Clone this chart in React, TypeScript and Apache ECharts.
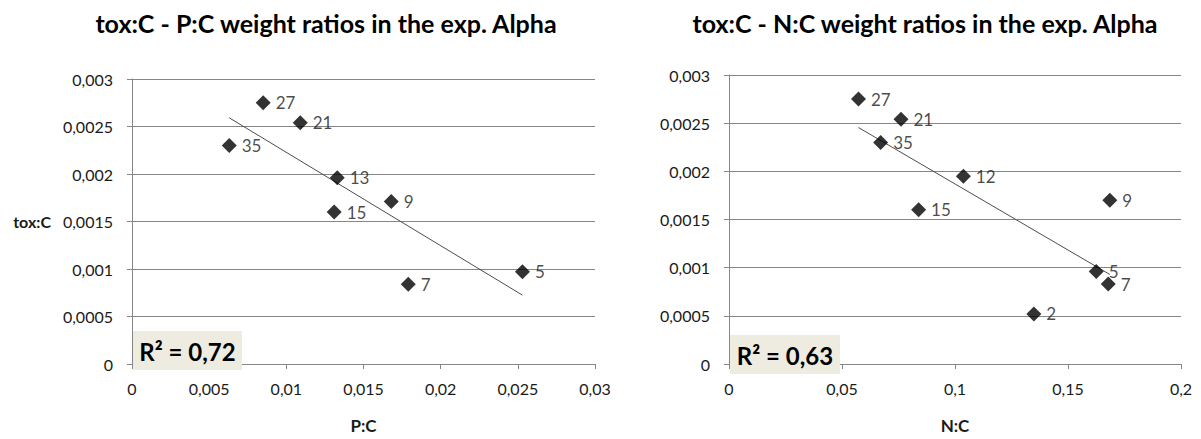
import React, { useEffect, useRef } from "react";
import * as echarts from "echarts";

// P:C chart
const pcNames = ["35", "27", "21", "15", "13", "9", "7", "5"];
const pcX = [0.0063, 0.0085, 0.0109, 0.0131, 0.0133, 0.0168, 0.0179, 0.0253];
const pcY = [0.0023, 0.00275, 0.00254, 0.0016, 0.00196, 0.00171, 0.00084, 0.00097];

// N:C chart
const ncNames = ["27", "35", "21", "15", "12", "2", "5", "7", "9"];
const ncX = [0.0573, 0.0671, 0.0761, 0.0839, 0.1037, 0.1349, 0.1625, 0.1678, 0.1685];
const ncY = [0.00275, 0.0023, 0.00254, 0.0016, 0.00195, 0.00052, 0.00096, 0.00083, 0.0017];

const titles = [
  "tox:C - P:C weight ratios in the exp. Alpha",
  "tox:C - N:C weight ratios in the exp. Alpha",
];
const xNames = ["P:C", "N:C"];
const yName = "tox:C";
const xMax = [0.03, 0.2];
const xStep = [0.005, 0.05];
const yMax = 0.003;
const yStep = 0.0005;

const FONT = "Lato";
const TXT = "#1a1a1a";
const GRID = "#868686";

function regress(xs: number[], ys: number[]) {
  const n = xs.length;
  const mx = xs.reduce((a, b) => a + b, 0) / n;
  const my = ys.reduce((a, b) => a + b, 0) / n;
  let sxy = 0, sxx = 0, syy = 0;
  for (let i = 0; i < n; i++) {
    sxy += (xs[i] - mx) * (ys[i] - my);
    sxx += (xs[i] - mx) ** 2;
    syy += (ys[i] - my) ** 2;
  }
  const b = sxy / sxx;
  const a = my - b * mx;
  const r2 = (sxy * sxy) / (sxx * syy);
  const x0 = Math.min(...xs);
  const x1 = Math.max(...xs);
  return { line: [[x0, a + b * x0], [x1, a + b * x1]], r2 };
}

const fmt = (v: number) => parseFloat(v.toPrecision(10)).toString().replace(".", ",");

export default function App() {
  const ref = useRef<HTMLDivElement>(null);
  useEffect(() => {
    if (!ref.current) return;
    const chart = echarts.init(ref.current, undefined, { renderer: "svg" });
    const sets = [
      { xs: pcX, ys: pcY, names: pcNames },
      { xs: ncX, ys: ncY, names: ncNames },
    ];
    const regs = sets.map((s) => regress(s.xs, s.ys));
    const grids = [
      { left: 132, top: 79, width: 463, height: 292 },
      { left: 729, top: 75, width: 452, height: 300 },
    ];
    const titleX = [326, 925];
    const boxes = [
      { x: 133, y: 331, w: 109, h: 39 },
      { x: 730, y: 335, w: 110, h: 39 },
    ];

    const option: any = {
      animation: false,
      grid: grids,
      xAxis: [0, 1].map((i) => ({
        type: "value",
        gridIndex: i,
        min: 0,
        max: xMax[i],
        interval: xStep[i],
        name: xNames[i],
        nameLocation: "middle",
        nameGap: 53,
        nameTextStyle: { fontFamily: FONT, fontWeight: "bold", fontSize: 17, color: TXT },
        axisLine: { show: true, lineStyle: { color: GRID, width: 1 } },
        axisTick: { show: true, inside: false, length: 5, lineStyle: { color: GRID } },
        splitLine: { show: false },
        axisLabel: { fontFamily: FONT, fontSize: 16, color: TXT, margin: 16, formatter: fmt },
      })),
      yAxis: [0, 1].map((i) => ({
        type: "value",
        gridIndex: i,
        min: 0,
        max: yMax,
        interval: yStep,
        name: i === 0 ? yName : "",
        nameLocation: "middle",
        nameRotate: 0,
        nameGap: 81,
        nameTextStyle: { fontFamily: FONT, fontWeight: "bold", fontSize: 16, color: TXT },
        axisLine: { show: true, lineStyle: { color: GRID, width: 1 } },
        axisTick: { show: true, inside: false, length: 5, lineStyle: { color: GRID } },
        splitLine: { show: true, lineStyle: { color: GRID, width: 1 } },
        axisLabel: { fontFamily: FONT, fontSize: 16, color: TXT, margin: 19, formatter: fmt },
      })),
      series: [
        ...[0, 1].map((i) => ({
          type: "line",
          xAxisIndex: i,
          yAxisIndex: i,
          data: regs[i].line,
          showSymbol: false,
          symbol: "none",
          lineStyle: { color: "#4d4d4d", width: 1 },
          z: 2,
          silent: true,
        })),
        ...[0, 1].map((i) => ({
          type: "scatter",
          xAxisIndex: i,
          yAxisIndex: i,
          data: sets[i].xs.map((x, j) => [x, sets[i].ys[j], sets[i].names[j]]),
          symbol: "diamond",
          symbolSize: 15,
          itemStyle: { color: "#000" },
          z: 3,
          label: {
            show: true,
            position: "right",
            distance: 5,
            formatter: (p: any) => p.value[2],
            fontFamily: FONT,
            fontSize: 17,
            color: TXT,
          },
        })),
      ],
      graphic: [
        ...[0, 1].map((i) => ({
          type: "text",
          x: titleX[i],
          y: 23,
          style: {
            text: titles[i],
            align: "center",
            verticalAlign: "middle",
            font: `bold 25px ${FONT}`,
            fill: "#000",
          },
        })),
        ...[0, 1].map((i) => ({
          type: "group",
          children: [
            {
              type: "rect",
              shape: { x: boxes[i].x, y: boxes[i].y, width: boxes[i].w, height: boxes[i].h },
              style: { fill: "#EEECE1" },
              z: 10,
            },
            {
              type: "text",
              x: boxes[i].x + boxes[i].w / 2,
              y: boxes[i].y + boxes[i].h / 2 + 1,
              style: {
                text: "R² = " + regs[i].r2.toFixed(2).replace(".", ","),
                align: "center",
                verticalAlign: "middle",
                font: `bold 24px ${FONT}`,
                fill: "#000",
              },
              z: 11,
            },
          ],
        })),
      ],
    };
    chart.setOption(option);
    return () => chart.dispose();
  }, []);
  return (
    <div
      ref={ref}
      style={{ position: "fixed", left: 0, top: 0, width: 1201, height: 439, background: "#fff" }}
    />
  );
}
